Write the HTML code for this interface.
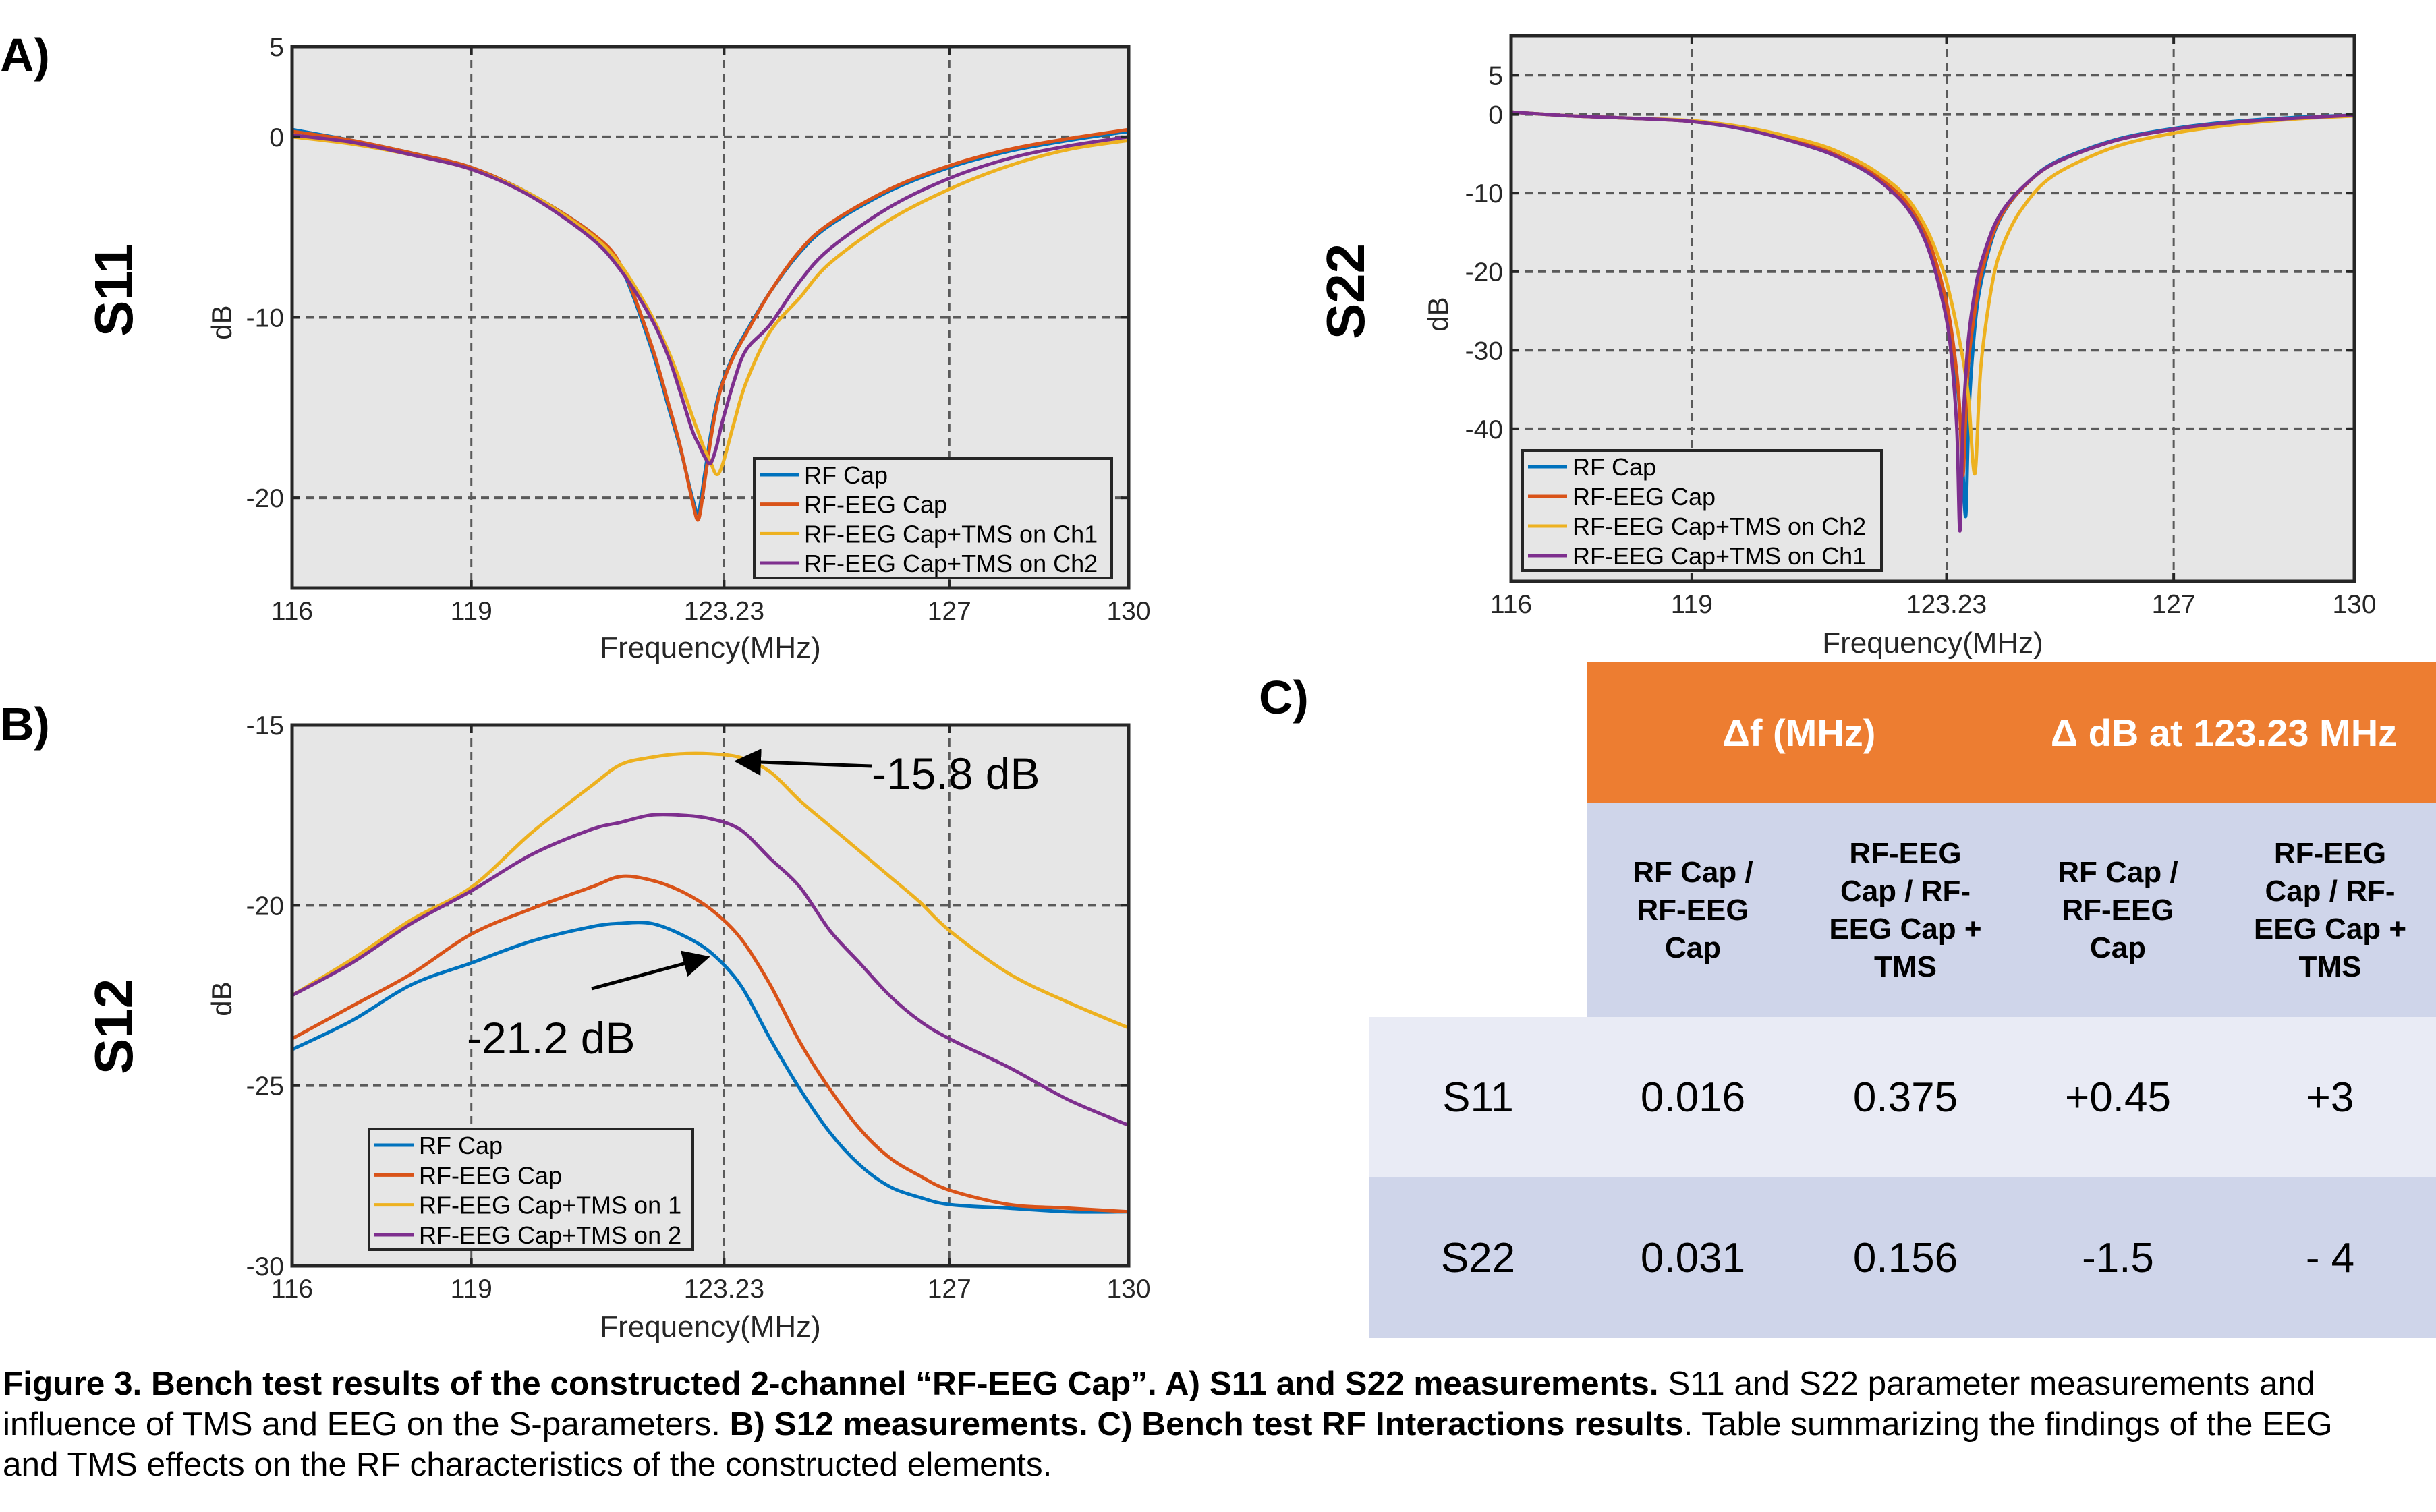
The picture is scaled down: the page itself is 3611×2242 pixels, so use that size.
<!DOCTYPE html>
<html><head><meta charset="utf-8">
<style>
html,body{margin:0;padding:0;background:#fff;}
body{width:3611px;height:2242px;position:relative;overflow:hidden;font-family:"Liberation Sans",Arial,sans-serif;}
svg text{font-family:"Liberation Sans",Arial,sans-serif;}
.cell{position:absolute;display:flex;align-items:center;justify-content:center;text-align:center;box-sizing:border-box;}
.hdr{color:#fff;font-weight:bold;font-size:56px;}
.sub{font-weight:bold;font-size:44px;line-height:56px;color:#000;}
.val{font-size:62px;color:#000;}
#caption{position:absolute;left:4px;top:2022px;width:3520px;font-size:49.5px;line-height:60px;color:#000;}
</style></head>
<body>
<svg id="charts" width="3611" height="2242" style="position:absolute;left:0;top:0" xmlns="http://www.w3.org/2000/svg">
  <text x="0" y="106" font-size="70" font-weight="bold">A)</text>
  <text x="0" y="1098" font-size="70" font-weight="bold">B)</text>
  <text x="1866" y="1058" font-size="70" font-weight="bold">C)</text>
</svg>

<div>
  <div class="cell hdr" style="left:2352px;top:982px;width:1259px;height:209px;background:#ED7D31;"></div>
  <div class="cell hdr" style="left:2352px;top:982px;width:630px;height:209px;">Δf (MHz)</div>
  <div class="cell hdr" style="left:2982px;top:982px;width:629px;height:209px;">Δ dB at 123.23 MHz</div>
  <div class="cell" style="left:2352px;top:1191px;width:1259px;height:317px;background:#CFD5EA;"></div>
  <div class="cell sub" style="left:2352px;top:1191px;width:315px;height:317px;">RF Cap /<br>RF-EEG<br>Cap</div>
  <div class="cell sub" style="left:2667px;top:1191px;width:315px;height:317px;">RF-EEG<br>Cap / RF-<br>EEG Cap +<br>TMS</div>
  <div class="cell sub" style="left:2982px;top:1191px;width:315px;height:317px;">RF Cap /<br>RF-EEG<br>Cap</div>
  <div class="cell sub" style="left:3297px;top:1191px;width:314px;height:317px;">RF-EEG<br>Cap / RF-<br>EEG Cap +<br>TMS</div>
  <div class="cell" style="left:2030px;top:1508px;width:1581px;height:238px;background:#E9EBF5;"></div>
  <div class="cell" style="left:2030px;top:1746px;width:1581px;height:238px;background:#CFD5EA;"></div>
  <div class="cell val" style="left:2030px;top:1508px;width:322px;height:238px;">S11</div>
  <div class="cell val" style="left:2352px;top:1508px;width:315px;height:238px;">0.016</div>
  <div class="cell val" style="left:2667px;top:1508px;width:315px;height:238px;">0.375</div>
  <div class="cell val" style="left:2982px;top:1508px;width:315px;height:238px;">+0.45</div>
  <div class="cell val" style="left:3297px;top:1508px;width:314px;height:238px;">+3</div>
  <div class="cell val" style="left:2030px;top:1746px;width:322px;height:238px;">S22</div>
  <div class="cell val" style="left:2352px;top:1746px;width:315px;height:238px;">0.031</div>
  <div class="cell val" style="left:2667px;top:1746px;width:315px;height:238px;">0.156</div>
  <div class="cell val" style="left:2982px;top:1746px;width:315px;height:238px;">-1.5</div>
  <div class="cell val" style="left:3297px;top:1746px;width:314px;height:238px;">- 4</div>
</div>

<div id="caption"><b>Figure 3. Bench test results of the constructed 2-channel “RF-EEG Cap”. A) S11 and S22 measurements.</b> S11 and S22 parameter measurements and influence of TMS and EEG on the S-parameters. <b>B) S12 measurements. C) Bench test RF Interactions results</b>. Table summarizing the findings of the EEG and TMS effects on the RF characteristics of the constructed elements.</div>

<script>
// ---------- DATA ----------
const seriesColors = ["#0072BD", "#D95319", "#EDB120", "#7E2F8E"];
const xTicks = [116, 119, 123.23, 127, 130];
const xTickLabels = ["116", "119", "123.23", "127", "130"];

// S11
const s11Freq = [116,117,118,119,120,121,121.5,122,122.3,122.5,122.7,122.8,122.9,123,123.1,123.2,123.4,123.6,124,124.5,125,126,127,128,129,130];
const s11RfCap = [0.4,-0.2,-0.9,-1.7,-3.2,-5.3,-7.2,-11.6,-15.0,-17.3,-20.0,-20.8,-18.8,-16.6,-14.8,-13.6,-12,-10.8,-8.6,-6.4,-4.9,-3.0,-1.7,-0.8,-0.2,0.3];
const s11RfEegCap = [0.3,-0.2,-0.9,-1.7,-3.2,-5.3,-7.1,-11.4,-14.8,-17.2,-20.2,-21.2,-19.2,-16.9,-15.0,-13.7,-12.1,-10.9,-8.6,-6.3,-4.8,-2.9,-1.6,-0.7,-0.1,0.4];
const s11TmsCh1 = [0,-0.4,-1.0,-1.8,-3.2,-5.4,-7.1,-9.8,-11.9,-13.6,-15.5,-16.4,-17.3,-18.0,-18.7,-18.2,-15.8,-13.6,-10.8,-8.9,-7.0,-4.6,-2.9,-1.6,-0.7,-0.2];
const s11TmsCh2 = [0.1,-0.3,-1.0,-1.8,-3.3,-5.6,-7.4,-10.0,-12.2,-14.2,-16.3,-17.0,-17.7,-18.1,-17.2,-15.8,-13.5,-11.8,-10.4,-8.0,-6.2,-3.9,-2.3,-1.2,-0.5,0];
const s11Names = ["RF Cap","RF-EEG Cap","RF-EEG Cap+TMS on Ch1","RF-EEG Cap+TMS on Ch2"];
const s11YTicks = [5, 0, -10, -20];

// S22
const s22Freq = [116,117,118,119,120,121,121.5,122,122.5,122.8,123,123.2,123.3,123.4,123.45,123.5,123.55,123.6,123.7,123.8,124,124.2,124.5,125,126,127,128,129,130];
const s22RfCap = [0.3,-0.2,-0.5,-0.9,-2.1,-4.2,-5.7,-7.8,-11.0,-14.4,-18.3,-24,-28,-34,-38,-45,-51,-38,-27,-21.5,-15.5,-12.2,-9.3,-6.2,-3.3,-1.8,-0.9,-0.4,-0.1];
const s22RfEegCap = [0.3,-0.2,-0.5,-0.9,-2.0,-4.0,-5.5,-7.5,-10.6,-13.8,-17.5,-23,-27,-33,-38,-46,-38,-31,-25,-20.5,-15.2,-12.1,-9.3,-6.3,-3.4,-1.9,-1.0,-0.5,-0.1];
const s22TmsCh2 = [0.3,-0.2,-0.5,-0.8,-1.8,-3.6,-5.0,-7.0,-10.0,-13.2,-16.3,-20.5,-23.5,-27,-29,-31,-33.5,-36.5,-45.7,-32,-21,-16,-11.8,-7.8,-4.2,-2.4,-1.3,-0.6,-0.2];
const s22TmsCh1 = [0.3,-0.2,-0.5,-0.9,-2.1,-4.2,-5.7,-7.8,-11.2,-14.8,-18.8,-25,-30,-40,-53,-40,-33,-28,-22.5,-19,-14.5,-11.8,-9.2,-6.3,-3.4,-1.9,-1.0,-0.5,-0.1];
const s22Names = ["RF Cap","RF-EEG Cap","RF-EEG Cap+TMS on Ch2","RF-EEG Cap+TMS on Ch1"];
const s22YTicks = [5, 0, -10, -20, -30, -40];

// S12
const s12Freq = [116,117,118,119,120,121,121.5,122,122.5,123,123.5,124,124.5,125,125.5,126,126.5,127,128,129,130];
const s12RfCap = [-24.0,-23.2,-22.2,-21.6,-21.0,-20.6,-20.5,-20.5,-20.8,-21.3,-22.2,-23.7,-25.1,-26.3,-27.2,-27.8,-28.1,-28.3,-28.4,-28.5,-28.5];
const s12RfEegCap = [-23.7,-22.8,-21.9,-20.8,-20.1,-19.5,-19.2,-19.3,-19.6,-20.1,-20.9,-22.2,-23.8,-25.1,-26.2,-27.0,-27.5,-27.9,-28.3,-28.4,-28.5];
const s12TmsOn1 = [-22.5,-21.5,-20.4,-19.5,-18.0,-16.7,-16.1,-15.9,-15.8,-15.8,-15.9,-16.3,-17.1,-17.8,-18.5,-19.2,-19.9,-20.7,-21.9,-22.7,-23.4];
const s12TmsOn2 = [-22.5,-21.6,-20.5,-19.6,-18.6,-17.9,-17.7,-17.5,-17.5,-17.6,-17.9,-18.7,-19.5,-20.7,-21.6,-22.5,-23.2,-23.7,-24.5,-25.4,-26.1];
const s12Names = ["RF Cap","RF-EEG Cap","RF-EEG Cap+TMS on 1","RF-EEG Cap+TMS on 2"];
const s12YTicks = [-15, -20, -25, -30];

// ---------- DRAWING ----------
const NS = "http://www.w3.org/2000/svg";
const svg = document.getElementById("charts");
function mk(tag, attrs, parent){
  const e = document.createElementNS(NS, tag);
  for (const k in attrs) e.setAttribute(k, attrs[k]);
  (parent || svg).appendChild(e);
  return e;
}
function smoothPath(pts){
  let d = "M" + pts[0][0].toFixed(1) + "," + pts[0][1].toFixed(1);
  for (let i = 0; i < pts.length - 1; i++){
    const p0 = pts[Math.max(0, i-1)], p1 = pts[i], p2 = pts[i+1], p3 = pts[Math.min(pts.length-1, i+2)];
    const t = 0.16;
    const c1x = p1[0] + (p2[0]-p0[0])*t, c1y = p1[1] + (p2[1]-p0[1])*t;
    const c2x = p2[0] - (p3[0]-p1[0])*t, c2y = p2[1] - (p3[1]-p1[1])*t;
    d += " C" + c1x.toFixed(1) + "," + c1y.toFixed(1) + " " + c2x.toFixed(1) + "," + c2y.toFixed(1) + " " + p2[0].toFixed(1) + "," + p2[1].toFixed(1);
  }
  return d;
}

function chart(c){
  const g = mk("g", {});
  
  
  const xS = v => c.left + (v - 116) / 14 * (c.right - c.left);
  const yS = v => c.top + (c.yMax - v) / (c.yMax - c.yMin) * (c.bottom - c.top);
  const bg = mk("rect", {x:c.left, y:c.top, width:c.right-c.left, height:c.bottom-c.top, fill:"#e6e6e6"}, g);
  
  
  xTicks.forEach((t, i) => {
    if (i === 0 || i === xTicks.length-1) return;
    const l = mk("line", {x1:xS(t), x2:xS(t), y1:c.top, y2:c.bottom, stroke:"#5a5a5a", "stroke-width":3, "stroke-dasharray":"12,8"}, g);
    
    
  });
  c.yTicks.forEach(t => {
    if (t === c.yMax || t === c.yMin) return;
    const l = mk("line", {x1:c.left, x2:c.right, y1:yS(t), y2:yS(t), stroke:"#5a5a5a", "stroke-width":4, "stroke-dasharray":"12,8"}, g);
    
    
  });
  const clipId = c.name + "-clip";
  const cp = mk("clipPath", {id:clipId}, g);
  mk("rect", {x:c.left, y:c.top, width:c.right-c.left, height:c.bottom-c.top}, cp);
  c.series.forEach((s, i) => {
    const pts = c.freq.map((f, k) => [xS(f), yS(s[k])]);
    const p = mk("path", {d:smoothPath(pts), fill:"none", stroke:seriesColors[i], "stroke-width":5, "stroke-linejoin":"round", "clip-path":"url(#"+clipId+")"}, g);
    
    
  });
  const fr = mk("rect", {x:c.left, y:c.top, width:c.right-c.left, height:c.bottom-c.top, fill:"none", stroke:"#262626", "stroke-width":5}, g);
  
  
  xTicks.forEach((t, i) => {
    mk("line", {x1:xS(t), x2:xS(t), y1:c.bottom, y2:c.bottom-12, stroke:"#262626", "stroke-width":4}, g);
    mk("line", {x1:xS(t), x2:xS(t), y1:c.top, y2:c.top+12, stroke:"#262626", "stroke-width":4}, g);
    const tx = mk("text", {x:xS(t), y:c.bottom + c.xLabelDy, "font-size":39, "text-anchor":"middle", fill:"#262626"}, g);
    tx.textContent = xTickLabels[i];
    
    
  });
  c.yTicks.forEach(t => {
    mk("line", {x1:c.left, x2:c.left+12, y1:yS(t), y2:yS(t), stroke:"#262626", "stroke-width":4}, g);
    mk("line", {x1:c.right, x2:c.right-12, y1:yS(t), y2:yS(t), stroke:"#262626", "stroke-width":4}, g);
    const tx = mk("text", {x:c.left - 12, y:yS(t) + 14, "font-size":39, "text-anchor":"end", fill:"#262626"}, g);
    tx.textContent = String(t);
    
    
  });
  const xt = mk("text", {x:(c.left+c.right)/2, y:c.xTitleY, "font-size":44, "text-anchor":"middle", fill:"#262626"}, g);
  xt.textContent = "Frequency(MHz)";
  
  
  const yt = mk("text", {x:0, y:0, "font-size":42, "text-anchor":"middle", fill:"#262626", transform:"translate("+(c.dbX)+","+c.dbY+") rotate(-90)"}, g);
  yt.textContent = "dB";
  
  
  const tt = mk("text", {x:0, y:0, "font-size":80, "font-weight":"bold", "text-anchor":"middle", fill:"#000", transform:"translate("+(c.titleX)+","+c.titleY+") rotate(-90)"}, g);
  tt.textContent = c.title;
  
  
  const L = c.legend;
  const lg = mk("g", {}, g);
  
  
  mk("rect", {x:L.x, y:L.y, width:L.w, height:L.h, fill:"#e6e6e6", stroke:"#262626", "stroke-width":4}, lg);
  c.names.forEach((n, i) => {
    const cy = L.y + 24 + i * (L.h - 46) / 3;
    const e = mk("g", {}, lg);
    
    
    mk("line", {x1:L.x+8, x2:L.x+66, y1:cy, y2:cy, stroke:seriesColors[i], "stroke-width":5}, e);
    const tx = mk("text", {x:L.x+74, y:cy+13, "font-size":36, fill:"#000"}, e);
    tx.textContent = n;
  });
  return {xS, yS};
}

chart({name:"s11-chart", title:"S11", left:433, right:1673, top:69, bottom:872, yMin:-25, yMax:5,
  yTicks:s11YTicks, freq:s11Freq, series:[s11RfCap, s11RfEegCap, s11TmsCh1, s11TmsCh2], names:s11Names,
  xLabelDy:47, xTitleY:975, dbX:343, dbY:478, titleX:196, titleY:430,
  legend:{x:1118, y:680, w:530, h:177}});

chart({name:"s22-chart", title:"S22", left:2240, right:3490, top:53, bottom:862, yMin:-59.4, yMax:10,
  yTicks:s22YTicks, freq:s22Freq, series:[s22RfCap, s22RfEegCap, s22TmsCh2, s22TmsCh1], names:s22Names,
  xLabelDy:47, xTitleY:968, dbX:2146, dbY:466, titleX:2022, titleY:432,
  legend:{x:2257, y:668, w:532, h:178}});

chart({name:"s12-chart", title:"S12", left:433, right:1673, top:1075, bottom:1877, yMin:-30, yMax:-15,
  yTicks:s12YTicks, freq:s12Freq, series:[s12RfCap, s12RfEegCap, s12TmsOn1, s12TmsOn2], names:s12Names,
  xLabelDy:47, xTitleY:1982, dbX:343, dbY:1481, titleX:196, titleY:1522,
  legend:{x:547, y:1674, w:480, h:179}});

const defs = mk("defs", {});
const mkr = mk("marker", {id:"arrowhead", markerWidth:8, markerHeight:8, refX:6, refY:4, orient:"auto", markerUnits:"strokeWidth"}, defs);
mk("path", {d:"M0,0 L8,4 L0,8 z", fill:"#000"}, mkr);
const a1 = mk("line", {x1:1292, y1:1136, x2:1098, y2:1129, stroke:"#000", "stroke-width":5, "marker-end":"url(#arrowhead)"});


const t1 = mk("text", {x:1292, y:1170, "font-size":66, fill:"#000"});
t1.textContent = "-15.8 dB";


const a2 = mk("line", {x1:877, y1:1466, x2:1043, y2:1421, stroke:"#000", "stroke-width":5, "marker-end":"url(#arrowhead)"});


const t2 = mk("text", {x:692, y:1562, "font-size":66, fill:"#000"});
t2.textContent = "-21.2 dB";


</script>
</body></html>
